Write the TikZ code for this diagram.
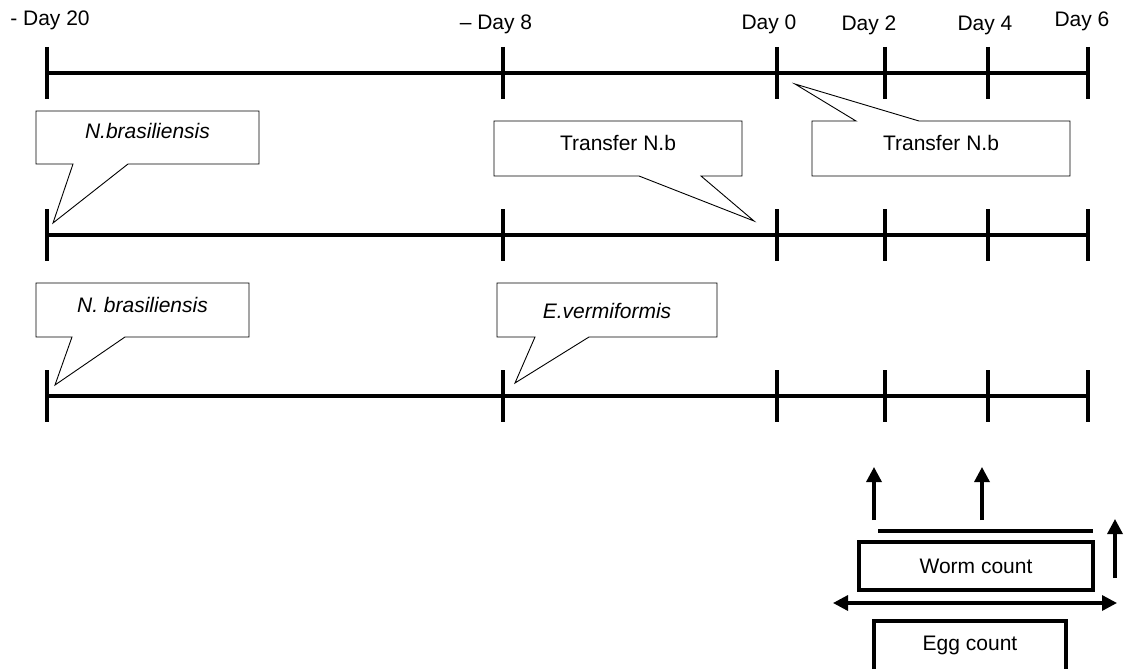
\documentclass[tikz,border=0pt]{standalone}
\usepackage{fontspec}
\setmainfont{Liberation Sans}
\usetikzlibrary{arrows.meta}
\begin{document}
\begin{tikzpicture}[x=1pt,y=-1pt,
  tline/.style={line width=4pt},
  tick/.style={line width=4pt},
  callout/.style={draw=black,fill=white,line width=0.9pt,line join=miter},
  lbl/.style={anchor=base,inner sep=0pt,font=\fontsize{21}{25}\selectfont},
  ital/.style={lbl,font=\fontsize{21}{25}\selectfont\itshape},
  upar/.style={line width=3.3pt,-{Triangle[length=15pt,width=15pt]}},
  dblar/.style={line width=3.3pt,{Triangle[length=15pt,width=15pt]}-{Triangle[length=15pt,width=15pt]}},
  cbox/.style={draw=black,line width=3.5pt}]
\useasboundingbox (0,0) rectangle (1125,669);

% tick x positions
\foreach \r/\y in {a/73,b/235,c/396}{
  \foreach \n/\x in {1/47,2/503,3/777,4/885,5/988,6/1088}{
    \coordinate (\r\n) at (\x,\y);
    \draw[tick] (\x,\y-26) -- (\x,\y+26);
  }
  \draw[tline] (\r1) -- (\r6);
}

% day labels
\node[lbl] (d20) at (50,26) {- Day 20};
\node[lbl] (d8) at (496,30) {\textendash\ Day 8};
\node[lbl] (d0) at (769,30) {Day 0};
\node[lbl] (d2) at (869,31) {Day 2};
\node[lbl] (d4) at (985,31) {Day 4};
\node[lbl] (d6) at (1082,27) {Day 6};

% callouts
\coordinate (t1) at (53,223);
\draw[callout] (36,111) -- (259,111) -- (259,164) -- (128,164) -- (t1) -- (73,164) -- (36,164) -- cycle;
\node[ital] (c1) at (147.5,138) {N.brasiliensis};

\coordinate (t2) at (754,221);
\draw[callout] (494,121) -- (742,121) -- (742,176) -- (701,176) -- (t2) -- (639,176) -- (494,176) -- cycle;
\node[lbl] (c2) at (618,150) {Transfer N.b};

\coordinate (t3) at (795,84);
\draw[callout] (812,121) -- (856,121) -- (t3) -- (919,121) -- (1070,121) -- (1070,176) -- (812,176) -- cycle;
\node[lbl] (c3) at (941,150) {Transfer N.b};

\coordinate (t4) at (55,385);
\draw[callout] (36,283) -- (249,283) -- (249,337) -- (125,337) -- (t4) -- (72,337) -- (36,337) -- cycle;
\node[ital] (c4) at (142.5,312) {N. brasiliensis};

\coordinate (t5) at (515,383);
\draw[callout] (497,283) -- (717,283) -- (717,337) -- (589,337) -- (t5) -- (535,337) -- (497,337) -- cycle;
\node[ital] (c5) at (607,318) {E.vermiformis};

% bottom section
\coordinate (u1s) at (874,520); \coordinate (u1e) at (874,467);
\coordinate (u2s) at (982,520); \coordinate (u2e) at (982,467);
\coordinate (u3s) at (1115,578); \coordinate (u3e) at (1115,519);
\draw[upar] (u1s) -- (u1e);
\draw[upar] (u2s) -- (u2e);
\draw[upar] (u3s) -- (u3e);
\coordinate (ls) at (878,531); \coordinate (le) at (1093,531);
\draw[line width=3.3pt] (ls) -- (le);

\draw[cbox] (859,542) rectangle (1093,590);
\node[lbl] (worm) at (976,573) {Worm count};

\coordinate (dl) at (833,603); \coordinate (dr) at (1117,603);
\draw[dblar] (dl) -- (dr);

\draw[cbox] (874,674) -- (874,621) -- (1066,621) -- (1066,674);
\node[lbl] (egg) at (970,650) {Egg count};
\end{tikzpicture}
\end{document}
